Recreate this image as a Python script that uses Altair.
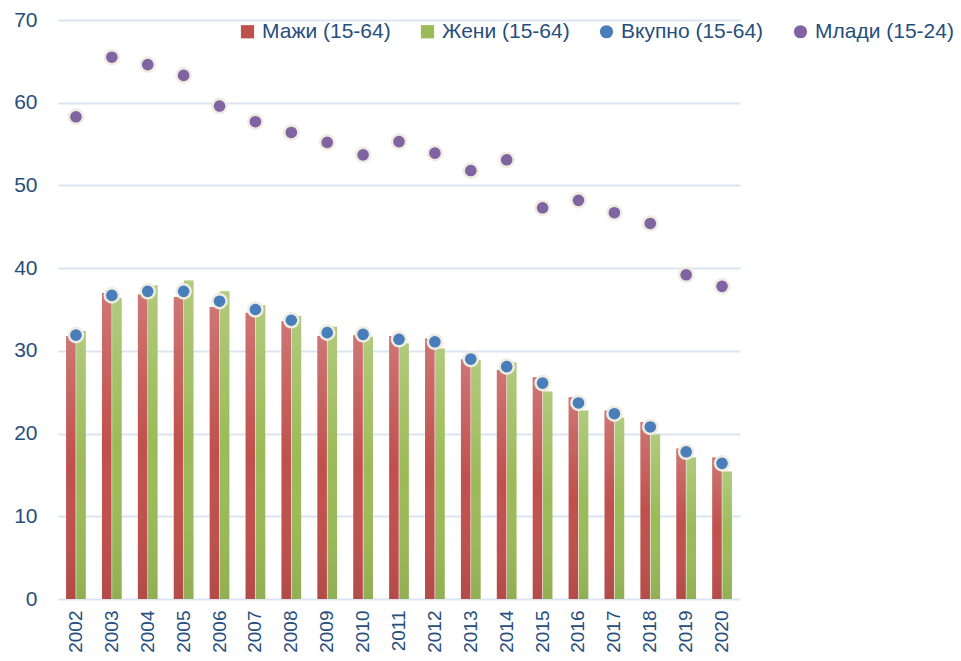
import altair as alt
import pandas as pd

years = [str(y) for y in range(2002, 2021)]
men = [31.8, 37.0, 36.8, 36.5, 35.3, 34.6, 33.6, 31.8, 31.9, 31.8, 31.5, 29.0, 27.7, 26.8, 24.4, 22.8, 21.4, 18.2, 17.1]
women = [32.4, 36.4, 37.9, 38.5, 37.2, 35.5, 34.2, 32.9, 31.7, 30.9, 30.3, 28.9, 28.6, 25.1, 22.8, 21.9, 19.9, 17.1, 15.4]
total = [31.9, 36.7, 37.2, 37.2, 36.0, 35.0, 33.7, 32.2, 32.0, 31.4, 31.1, 29.0, 28.1, 26.1, 23.7, 22.4, 20.8, 17.8, 16.4]
youth = [58.3, 65.5, 64.6, 63.3, 59.6, 57.7, 56.4, 55.2, 53.7, 55.3, 53.9, 51.8, 53.1, 47.3, 48.2, 46.7, 45.4, 39.2, 37.8]

series_names = ["Мажи (15-64)", "Жени (15-64)", "Вкупно (15-64)", "Млади (15-24)"]
series_colors = ["#c0504d", "#9bbb59", "#4a7ebb", "#8064a2"]
series_shapes = ["square", "square", "circle", "circle"]

rows = []
for name, vals in zip(series_names, [men, women, total, youth]):
    for yr, v in zip(years, vals):
        rows.append({"Year": yr, "Series": name, "Value": v})
df = pd.DataFrame(rows)

FONT = "Liberation Sans"
TXT = "#264e7c"

x_enc = alt.X(
    "Year:N",
    sort=years,
    title=None,
    scale=alt.Scale(paddingInner=0.45, paddingOuter=0.225),
    axis=alt.Axis(labelAngle=-90, labelFontSize=19, labelColor=TXT, labelFont=FONT,
                  ticks=False, domain=False, labelPadding=11),
)
y_enc = alt.Y(
    "Value:Q",
    title=None,
    scale=alt.Scale(domain=[0, 70], nice=False),
    axis=alt.Axis(values=[0, 10, 20, 30, 40, 50, 60, 70], labelFontSize=21, labelColor=TXT,
                  labelFont=FONT, ticks=False, domain=False, labelPadding=21,
                  gridColor="#dbe5f1", gridWidth=2),
)

legend_def = alt.Legend(
    title=None, orient="none", direction="horizontal", legendX=179, legendY=1,
    labelFontSize=21, labelColor=TXT, labelFont=FONT, symbolSize=175,
    columnPadding=26, labelOffset=4, padding=0, symbolStrokeWidth=0,
)
color_enc = alt.Color("Series:N", scale=alt.Scale(domain=series_names, range=series_colors),
                      legend=legend_def)
shape_enc = alt.Shape("Series:N", scale=alt.Scale(domain=series_names, range=series_shapes),
                      legend=legend_def)

base = alt.Chart(df)
bar_filter = alt.FieldOneOfPredicate(field="Series", oneOf=series_names[:2])
dot_filter = alt.FieldOneOfPredicate(field="Series", oneOf=series_names[2:])
xoff = alt.XOffset("Series:N", scale=alt.Scale(domain=series_names[:2], paddingInner=0.06))

bars = base.transform_filter(bar_filter).mark_bar().encode(
    x=x_enc, xOffset=xoff, y=y_enc, color=color_enc
)
shade = base.transform_filter(bar_filter).mark_bar(
    fill=alt.Gradient(
        gradient="linear", x1=0, y1=0, x2=0, y2=1,
        stops=[alt.GradientStop(color="rgba(255,255,255,0.22)", offset=0),
               alt.GradientStop(color="rgba(255,255,255,0)", offset=0.5),
               alt.GradientStop(color="rgba(0,0,0,0.07)", offset=1)],
    )
).encode(x=x_enc, xOffset=xoff, y=y_enc)
dots = base.transform_filter(dot_filter).mark_point(
    filled=True, size=200, stroke="#eeece1", strokeWidth=2.5, opacity=1
).encode(x=x_enc, y=y_enc, color=color_enc, shape=shape_enc)

chart = alt.layer(bars, shade, dots).properties(
    width=682, height=579,
    autosize=alt.AutoSizeParams(type="none"),
    padding={"left": 50, "top": 12, "right": 213, "bottom": 54},
).configure_view(stroke=None).configure_axis(grid=True)
chart = chart.configure_axisX(grid=False)

chart.save("out.html", embed_options={"renderer": "svg", "actions": False})
